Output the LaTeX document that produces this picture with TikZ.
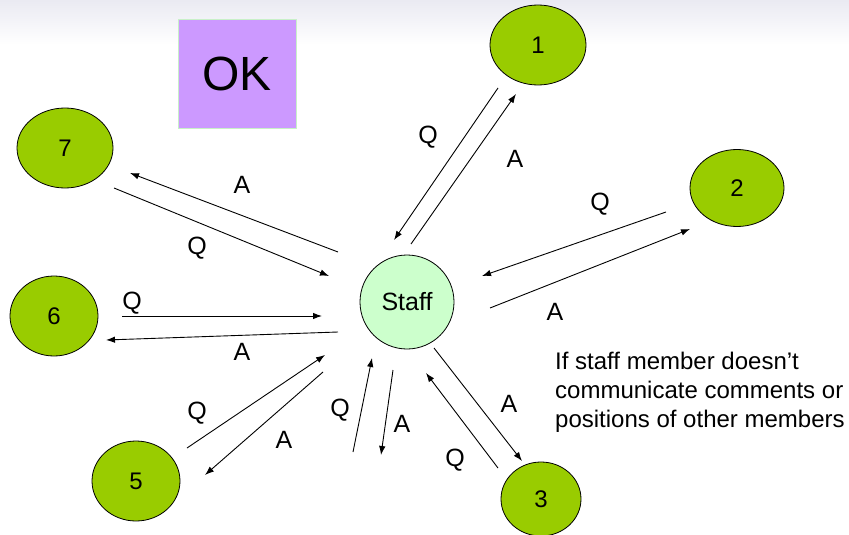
\documentclass[tikz,border=0pt]{standalone}
\usepackage{fontspec}
\setmainfont{Liberation Sans}
\usetikzlibrary{shapes.geometric,arrows.meta}
\definecolor{member}{RGB}{153,204,0}
\definecolor{staffgreen}{RGB}{204,255,204}
\definecolor{okviolet}{RGB}{204,153,255}
\definecolor{okrim}{RGB}{200,240,200}
\definecolor{haze}{RGB}{234,234,242}
\tikzset{
  member/.style={ellipse, draw=black, line width=0.8pt, fill=member, inner sep=0pt,
    font=\fontsize{24}{26}\selectfont},
  staffnode/.style={circle, draw=black, line width=0.8pt, fill=staffgreen, inner sep=0pt,
    minimum size=94pt, font=\fontsize{25}{27}\selectfont},
  okbox/.style={rectangle, draw=okrim, line width=1pt, fill=okviolet, inner sep=0pt,
    minimum width=118pt, minimum height=108pt, font=\fontsize{48}{50}\selectfont},
  msg/.style={draw=black, line width=0.9pt, -{Latex[length=9pt,width=6.5pt]}},
  lbl/.style={inner sep=0pt, font=\fontsize{25}{27}\selectfont},
  note/.style={inner sep=0pt, anchor=north west, align=left, font=\fontsize{24}{29}\selectfont}
}
\begin{document}
\begin{tikzpicture}[x=1pt,y=-1pt]
  \useasboundingbox (0,0) rectangle (849,535);
  \fill[white] (0,0) rectangle (849,535);
  \shade[top color=haze, bottom color=white] (0,0) rectangle (849,45);

  % panel title
  \node[okbox] (ok) at (237,74) {OK};

  % members and staff
  \node[staffnode] (staff) at (407,302) {Staff};
  \node[member, minimum width=96pt, minimum height=80pt] (m1) at (538,45) {1};
  \node[member, minimum width=94pt, minimum height=77pt] (m2) at (737,188) {2};
  \node[member, minimum width=80pt, minimum height=74pt] (m3) at (541,499) {3};
  \node[member, minimum width=88pt, minimum height=80pt] (m5) at (136,481) {5};
  \node[member, minimum width=88pt, minimum height=80pt] (m6) at (54,316) {6};
  \node[member, minimum width=96pt, minimum height=80pt] (m7) at (65,148) {7};

  % arrow end points
  \coordinate (q1a) at (498,88);  \coordinate (q1b) at (394,240);
  \coordinate (a1a) at (411,244); \coordinate (a1b) at (516,94);
  \coordinate (q2a) at (666,212); \coordinate (q2b) at (482,276);
  \coordinate (a2a) at (490,308); \coordinate (a2b) at (690,229);
  \coordinate (a3a) at (434,348); \coordinate (a3b) at (522,461);
  \coordinate (q3a) at (498,468); \coordinate (q3b) at (426,373);
  \coordinate (q4a) at (353,452); \coordinate (q4b) at (372,358);
  \coordinate (a4a) at (393,370); \coordinate (a4b) at (381,455);
  \coordinate (q5a) at (187,448); \coordinate (q5b) at (325,355);
  \coordinate (a5a) at (323,372); \coordinate (a5b) at (205,475);
  \coordinate (q6a) at (122,316); \coordinate (q6b) at (322,316);
  \coordinate (a6a) at (338,332); \coordinate (a6b) at (106,340);
  \coordinate (a7a) at (338,252); \coordinate (a7b) at (130,173);
  \coordinate (q7a) at (114,188); \coordinate (q7b) at (329,276);

  % questions and answers
  \draw[msg] (q1a) -- (q1b);
  \draw[msg] (a1a) -- (a1b);
  \draw[msg] (q2a) -- (q2b);
  \draw[msg] (a2a) -- (a2b);
  \draw[msg] (a3a) -- (a3b);
  \draw[msg] (q3a) -- (q3b);
  \draw[msg] (q4a) -- (q4b);
  \draw[msg] (a4a) -- (a4b);
  \draw[msg] (q5a) -- (q5b);
  \draw[msg] (a5a) -- (a5b);
  \draw[msg] (q6a) -- (q6b);
  \draw[msg] (a6a) -- (a6b);
  \draw[msg] (a7a) -- (a7b);
  \draw[msg] (q7a) -- (q7b);

  % labels
  \node[lbl] (lq1) at (428,137) {Q};
  \node[lbl] (la1) at (515,159) {A};
  \node[lbl] (lq2) at (600,204) {Q};
  \node[lbl] (la2) at (555,312) {A};
  \node[lbl] (la3) at (509,404) {A};
  \node[lbl] (lq3) at (455,460) {Q};
  \node[lbl] (lq4) at (340,410) {Q};
  \node[lbl] (la4) at (402,424) {A};
  \node[lbl] (lq5) at (197,413) {Q};
  \node[lbl] (la5) at (284,440) {A};
  \node[lbl] (lq6) at (132,303) {Q};
  \node[lbl] (la6) at (242,352) {A};
  \node[lbl] (la7) at (242,185) {A};
  \node[lbl] (lq7) at (197,248) {Q};

  \node[note] (remark) at (555,352) {If staff member doesn’t\\communicate comments or\\positions of other members};
\end{tikzpicture}
\end{document}
